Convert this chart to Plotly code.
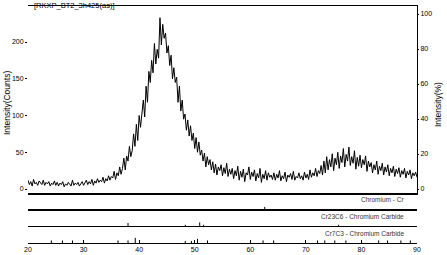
import plotly.graph_objects as go

# ---------------- data ----------------
start_angle = 20.0
step_angle = 0.25
counts = [
    # 20.00 - 25.00
    12, 6, 10, 4, 13, 7, 9, 5, 11, 8, 6, 12, 5, 9, 7, 10, 4, 8, 6, 11, 5,
    # 25.25 - 30.00
    9, 4, 8, 6, 10, 3, 7, 5, 9, 6, 4, 12, 5, 8, 6, 9, 4, 7, 10, 5,
    # 30.25 - 33.00
    8, 12, 6, 10, 7, 13, 5, 11, 8, 14, 9, 12,
    # 33.25 - 35.00
    10, 16, 8, 14, 11, 18, 12, 17,
    # 35.25 - 36.75
    15, 24, 13, 22, 18, 30, 20,
    # 37.00 - 38.50
    28, 42, 26, 45, 38, 58, 44,
    # 38.75 - 40.25
    52, 75, 58, 88, 66, 100, 84,
    # 40.50 - 42.00
    108, 121, 98, 140, 118, 160, 145,
    # 42.25 - 43.50
    175, 158, 198, 170, 190, 178,
    # 43.75 - 45.00
    233, 196, 224, 205, 212, 185,
    # 45.25 - 46.50
    195, 168, 182, 150, 165, 145,
    # 46.75 - 48.00
    152, 118, 140, 106, 121, 95,
    # 48.25 - 49.50
    102, 80, 94, 72, 86, 66,
    # 49.75 - 51.00
    76, 55, 70, 50, 64, 46,
    # 51.25 - 53.00
    53, 38, 49, 30, 44, 33, 40, 26,
    # 53.25 - 56.50
    37, 22, 34, 19, 30, 25, 33, 18, 29, 21, 35, 17, 27, 20,
    # 56.75 - 64.00
    28, 14, 25, 18, 31, 12, 24, 16, 27, 10, 22, 19, 30, 13, 23, 17, 26, 11, 21, 15,
    28, 9, 20, 14, 25, 12, 22, 16, 19, 13,
    # 64.25 - 69.00
    22, 12, 20, 15, 25, 11, 18, 14, 23, 10, 19, 16, 21, 13, 24, 12, 17, 15, 22, 14,
    # 69.25 - 73.00
    18, 12, 23, 15, 20, 13, 26, 16, 22, 18, 28, 17, 25, 21, 32, 19,
    # 73.25 - 81.50
    38, 22, 44, 26, 40, 30, 48, 25, 42, 33, 50, 28, 45, 36, 55, 30, 47, 38, 57, 32,
    44, 35, 52, 27, 43, 31, 46, 29, 40, 33, 45, 24, 38, 30,
    # 81.75 - 90.00
    36, 22, 33, 26, 38, 20, 31, 25, 35, 19, 30, 23, 33, 18, 28, 22, 31, 17, 27, 21,
    29, 16, 25, 20, 28, 15, 24, 19, 26, 14, 22, 18, 23, 16,
]
two_theta = [start_angle + step_angle * i for i in range(len(counts))]

# reference patterns (position in 2theta, relative height in %)
cr_pos = [62.6]
cr_h = [14]
cr23c6_pos = [38.0, 48.3, 50.9, 51.6, 75.9]
cr23c6_h = [20, 8, 24, 8, 8]
cr7c3_pos = [24.2, 26.2, 28.0, 36.2, 38.0, 39.3, 48.3, 49.4, 50.5, 52.3,
             62.3, 64.2, 72.1, 73.4, 75.2, 77.2, 83.1, 84.7, 87.1, 88.8]
cr7c3_h = [16, 16, 16, 16, 16, 32, 13, 13, 26, 16,
           16, 16, 16, 16, 16, 16, 16, 16, 16, 16]

left_ticks = [0, 50, 100, 150, 200]
right_ticks = [0, 20, 40, 60, 80, 100]
x_ticks = [20, 30, 40, 50, 60, 70, 80, 90]

title_text = "[RKXP_BT2_3h425(as)]"
pattern_labels = ["Chromium - Cr", "Cr23C6 - Chromium Carbide", "Cr7C3 - Chromium Carbide"]


def sticks(pos, h):
    xs, ys = [], []
    for p, v in zip(pos, h):
        xs += [p, p, None]
        ys += [0, v, None]
    return xs, ys


FONT = "Liberation Sans, Arial, sans-serif"
W, H = 447, 255
L, R, T, B = 28, 30, 6, 12
PW = W - L - R          # plot width in px
PH = H - T - B          # plot height in px
BOT = H - B             # pixel row of the plot bottom


def py(pix):            # pixel row -> paper fraction
    return (BOT - pix) / PH


def px(pix):            # pixel column -> paper fraction
    return (pix - L) / PW


fig = go.Figure()

fig.add_trace(go.Scatter(x=two_theta, y=counts, mode="lines",
                         line=dict(color="black", width=1), xaxis="x", yaxis="y",
                         showlegend=False, hoverinfo="skip"))

for (pos, h), ax, ay in zip([(cr_pos, cr_h), (cr23c6_pos, cr23c6_h), (cr7c3_pos, cr7c3_h)],
                            ["x2", "x3", "x4"], ["y3", "y4", "y5"]):
    sx, sy = sticks(pos, h)
    fig.add_trace(go.Scatter(x=sx, y=sy, mode="lines", line=dict(color="black", width=1),
                             xaxis=ax, yaxis=ay, showlegend=False, hoverinfo="skip"))

# keep the right axis present
fig.add_trace(go.Scatter(x=[None], y=[None], xaxis="x", yaxis="y2", showlegend=False))

axis_common = dict(showgrid=False, zeroline=False, color="black", automargin=False,
                   tickfont=dict(family=FONT, size=7, color="black"))

d_main = [py(194), 1.0]
d_cr = [py(209), py(194)]
d_c6 = [py(226), py(211)]
d_c3 = [0.0, py(227)]

# main panel: 0 counts at row 189, 200 counts at row 42
c_per_px = 200 / (189 - 42)
y_rng = [-(194 - 189) * c_per_px, (189 - T) * c_per_px]
p_per_px = 100 / (189 - 14)
y2_rng = [-(194 - 189) * p_per_px, (189 - T) * p_per_px]

fig.update_layout(
    width=W, height=H,
    margin=dict(l=L, r=R, t=T, b=B, autoexpand=False),
    paper_bgcolor="white", plot_bgcolor="white",
    font=dict(family=FONT, size=7, color="black"),
    xaxis=dict(domain=[0, 1], anchor="y", range=[20, 90], showline=True, mirror=True,
               linecolor="black", linewidth=1, ticks="", showticklabels=False, **axis_common),
    yaxis=dict(domain=d_main, anchor="x", range=y_rng, tickvals=left_ticks,
               ticks="outside", ticklen=2, tickcolor="black", showline=False, **axis_common),
    yaxis2=dict(overlaying="y", side="right", anchor="x", range=y2_rng,
                tickvals=right_ticks, ticks="outside", ticklen=1, tickcolor="black",
                showline=True, linecolor="black", linewidth=1, **axis_common),
    xaxis2=dict(domain=[0, 1], anchor="y3", matches="x", showline=True, mirror=True,
                linecolor="black", linewidth=1, ticks="", showticklabels=False, **axis_common),
    yaxis3=dict(domain=d_cr, anchor="x2", range=[0, 100], visible=False),
    xaxis3=dict(domain=[0, 1], anchor="y4", matches="x", showline=True, mirror=True,
                linecolor="black", linewidth=1, ticks="", showticklabels=False, **axis_common),
    yaxis4=dict(domain=d_c6, anchor="x3", range=[0, 100], visible=False),
    xaxis4=dict(domain=[0, 1], anchor="y5", matches="x", showline=True, mirror=True,
                linecolor="black", linewidth=1, ticks="inside", ticklen=3, tickcolor="black",
                tickvals=x_ticks, showticklabels=True, **axis_common),
    yaxis5=dict(domain=d_c3, anchor="x4", range=[0, 100], visible=False),
)

ann = [
    dict(text=title_text, x=px(33), y=py(0), xref="paper", yref="paper", xanchor="left",
         yanchor="top", showarrow=False, font=dict(size=7.5), borderpad=0),
    dict(text="Intensity(Counts)", x=px(0), y=py(103), xref="paper",
         yref="paper", textangle=-90, showarrow=False, font=dict(size=8.5)),
    dict(text="Intensity(%)", x=px(445), y=py(105), xref="paper",
         yref="paper", textangle=-90, showarrow=False, font=dict(size=8.5)),
]
for lab, ypix in zip(pattern_labels, [199, 216, 233]):
    ann.append(dict(text=lab, x=px(406), y=py(ypix), xref="paper",
                    yref="paper", xanchor="right", yanchor="middle", showarrow=False,
                    font=dict(size=6.5, color="#333333")))
fig.update_layout(annotations=ann)

fig.write_html("out.html", config={"displayModeBar": False},
               post_script="document.body.style.margin='0';document.body.style.overflow='hidden';")
